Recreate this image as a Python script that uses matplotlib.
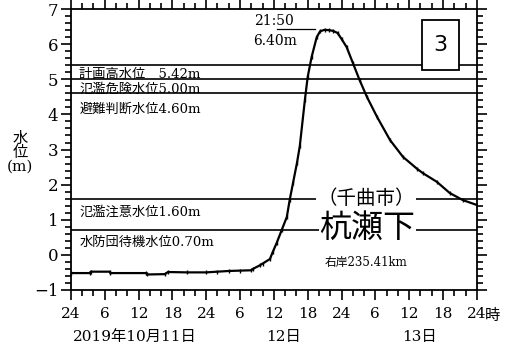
import numpy as np
import matplotlib.pyplot as plt
from matplotlib.ticker import MultipleLocator
from matplotlib.patches import Rectangle

plt.rcParams['font.family'] = ['DejaVu Serif', 'Noto Sans CJK JP']

# hours since 2019-10-11 00:00, water level (m)
hours = [0, 3.4, 3.5, 6.9, 7.0, 13.4, 13.5, 16.7, 17.2, 20.6, 24, 26, 28, 30, 32,
         32.3, 33.5, 34.0, 35.3, 35.8, 36.5, 37.4, 38.3, 38.8, 39.4, 40.1, 40.6,
         41.5, 42.0, 42.7, 43.6, 44.2, 45.0, 45.83, 46.5, 47.3, 48.0, 48.9, 50.0,
         51.2, 52.5, 54.3, 56.6, 58.9, 61.4, 62.4, 64.9, 67.2, 69.5, 72]
level = [-0.52, -0.52, -0.48, -0.48, -0.52, -0.52, -0.56, -0.55, -0.49, -0.50,
         -0.50, -0.48, -0.46, -0.45, -0.44, -0.40, -0.30, -0.25, -0.12, 0.08,
         0.34, 0.71, 1.08, 1.56, 2.05, 2.62, 3.10, 4.41, 5.07, 5.64, 6.20, 6.37,
         6.41, 6.40, 6.38, 6.32, 6.15, 5.92, 5.47, 4.98, 4.50, 3.93, 3.27, 2.79,
         2.45, 2.33, 2.08, 1.76, 1.56, 1.42]

thresholds = [5.42, 5.00, 4.60, 1.60, 0.70]
threshold_labels = ['計画高水位　5.42m', '氾濫危険水位5.00m', '避難判断水位4.60m',
                    '氾濫注意水位1.60m', '水防団待機水位0.70m']

xtick_pos = [0, 6, 12, 18, 24, 30, 36, 42, 48, 54, 60, 66, 72]
xtick_labels = ['24', '6', '12', '18', '24', '6', '12', '18', '24', '6', '12', '18', '24']

fig = plt.figure(figsize=(5.1, 3.51), dpi=100)
ax = fig.add_axes([0.139, 0.174, 0.796, 0.8])

# label centre offsets below each line (in m)
label_drop = [0.27, 0.28, 0.45, 0.40, 0.36]
for th, lab, dr in zip(thresholds, threshold_labels, label_drop):
    ax.axhline(th, color='black', lw=1.2, zorder=1)
    ax.text(1.5, th - dr, lab, fontsize=9.5, va='center', ha='left')

ax.plot(hours, level, color='black', lw=1.6, marker='|', markersize=3, zorder=3)

ax.set_xlim(0, 72)
ax.set_ylim(-1, 7)
ax.set_xticks(xtick_pos)
ax.set_xticklabels(xtick_labels, fontsize=11)
ax.xaxis.set_minor_locator(MultipleLocator(2))
ax.yaxis.set_minor_locator(MultipleLocator(0.2))
ax.set_yticks(range(-1, 8))
ax.set_yticklabels(['−1', '0', '1', '2', '3', '4', '5', '6', '7'], fontsize=12)

ax.tick_params(which='both', direction='out', top=True, right=True, width=1.2)
ax.tick_params(which='major', length=7, pad=2)
ax.tick_params(which='minor', length=4)
ax.tick_params(axis='x', which='major', pad=5)
for sp in ax.spines.values():
    sp.set_linewidth(1.3)

# peak annotation
ax.text(32.4, 6.66, '21:50', fontsize=10, va='center')
ax.text(32.4, 6.09, '6.40m', fontsize=10, va='center')
ax.plot([36.6, 43.3], [6.42, 6.42], color='black', lw=0.9)

# station box
ax.add_patch(Rectangle((62.2, 5.26), 6.6, 1.43, fc='white', ec='black', lw=1.3, zorder=5))
ax.text(65.5, 5.98, '3', fontsize=16, family='DejaVu Sans', ha='center', va='center', zorder=6)

# station name
ax.text(52.3, 1.6, '（千曲市）', fontsize=14, ha='center', va='center', zorder=4,
        bbox=dict(fc='white', ec='none', pad=1))
ax.text(52.6, 0.74, '杭瀬下', fontsize=23, ha='center', va='center', zorder=4,
        bbox=dict(fc='white', ec='none', pad=0.5))
ax.text(52.3, -0.23, '右岸235.41km', fontsize=8.5, ha='center', va='center', zorder=4)

# axis labels
fig.text(0.04, 0.565, '水\n位\n(m)', fontsize=11, ha='center', va='center', linespacing=1.0)
fig.text(0.951, 0.1, '時', fontsize=11, ha='left', va='center')
fig.text(0.265, 0.04, '2019年10月11日', fontsize=11, ha='center', va='center')
fig.text(0.555, 0.04, '12日', fontsize=11, ha='center', va='center')
fig.text(0.823, 0.04, '13日', fontsize=11, ha='center', va='center')

fig.savefig('out.png', dpi=100)
